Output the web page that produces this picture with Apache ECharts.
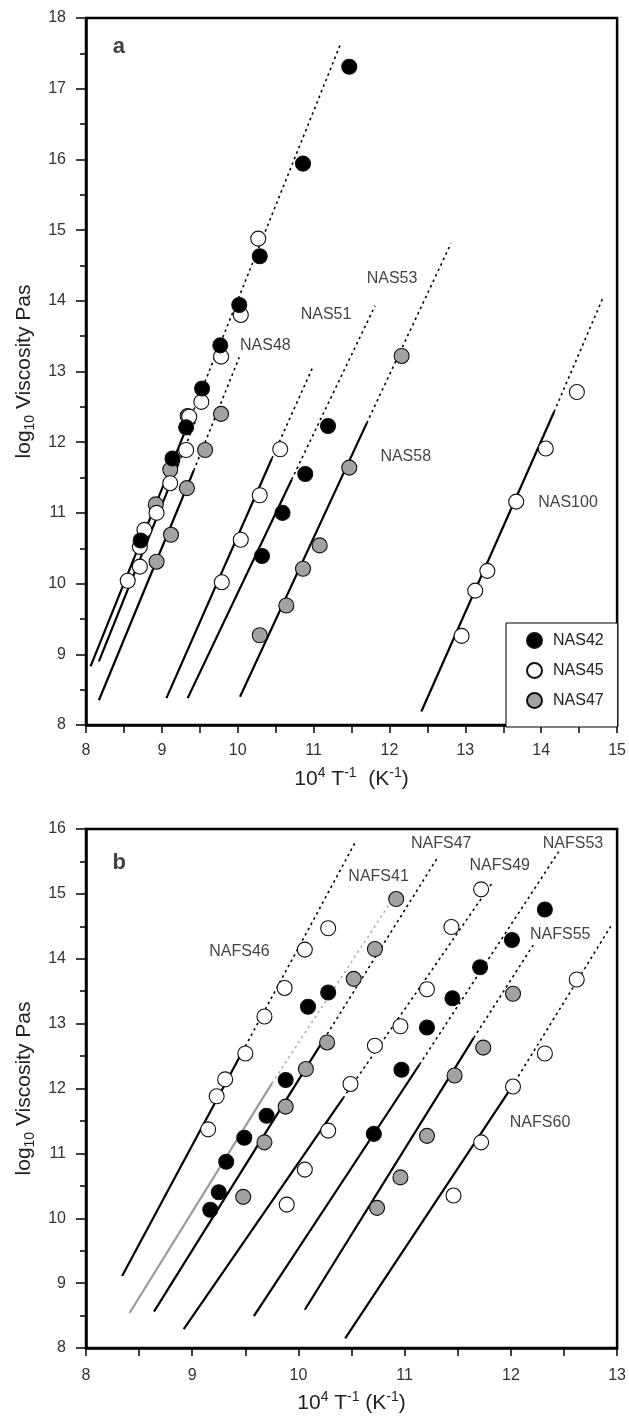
<!DOCTYPE html>
<html>
<head>
<meta charset="utf-8">
<script src="https://cdn.jsdelivr.net/npm/echarts@6/dist/echarts.min.js"></script>
<style>
  html, body { margin: 0; padding: 0; background: #fff; }
  #chart { width: 629px; height: 1416px; }
</style>
</head>
<body>
<div id="chart"></div>
<script>
// ---------- Panel a : NAS melts ----------
const aXRange = [8, 15];
const aYRange = [8, 18];

const aBlack = [
  [11.47, 17.31], [10.86, 15.94], [10.29, 14.63], [10.02, 13.94], [9.77, 13.37],
  [9.53, 12.76], [9.32, 12.21], [9.14, 11.77], [8.72, 10.61],
  [11.19, 12.23], [10.89, 11.55], [10.59, 11.00], [10.32, 10.39]
];
const aWhite = [
  [10.27, 14.88], [10.04, 13.80], [9.78, 13.21], [9.52, 12.57], [9.36, 12.36],
  [9.32, 11.89], [9.11, 11.42], [8.93, 11.00], [8.77, 10.76], [8.71, 10.52],
  [8.71, 10.24], [8.55, 10.04],
  [10.56, 11.90], [10.29, 11.25], [10.04, 10.62], [9.79, 10.02],
  [14.47, 12.71], [14.06, 11.91], [13.67, 11.16], [13.29, 10.18], [13.13, 9.90], [12.95, 9.26]
];
const aGray = [
  [9.34, 12.37], [9.78, 12.40], [9.57, 11.89], [9.11, 11.61], [9.33, 11.35],
  [8.92, 11.12], [9.12, 10.69], [8.93, 10.31],
  [11.47, 11.64], [11.08, 10.54], [10.86, 10.21], [10.64, 9.69], [10.29, 9.27],
  [12.16, 13.22]
];

// model lines: solid from start to solidEnd, dotted extrapolation to end
const aLineStart    = [[8.06, 8.83], [8.17, 8.90], [8.17, 8.35], [9.06, 8.38], [9.34, 8.38], [10.03, 8.40], [12.42, 8.19]];
const aLineSolidEnd = [[9.39, 12.38], [9.22, 11.70], [9.42, 11.60], [10.45, 11.77], [10.71, 11.47], [11.70, 12.27], [14.17, 12.43]];
const aLineEnd      = [[11.35, 17.62], [9.45, 12.32], [10.02, 13.20], [10.98, 13.04], [11.81, 13.93], [12.81, 14.81], [14.82, 14.06]];

const aLabelNames = ['NAS48', 'NAS51', 'NAS53', 'NAS58', 'NAS100'];
const aLabelPos   = [[10.03, 13.37], [10.83, 13.80], [11.70, 14.31], [11.88, 11.79], [13.96, 11.15]];

// ---------- Panel b : NAFS melts ----------
const bXRange = [8, 13];
const bYRange = [8, 16];

const bBlack = [
  [10.28, 13.48], [10.09, 13.26], [9.88, 12.13], [9.70, 11.58], [9.49, 11.24],
  [9.32, 10.87], [9.25, 10.40], [9.17, 10.13],
  [12.32, 14.76], [12.01, 14.29], [11.71, 13.87], [11.45, 13.39], [11.21, 12.94],
  [10.97, 12.29], [10.71, 11.30]
];
const bWhite = [
  [10.28, 14.47], [10.06, 14.14], [9.87, 13.55], [9.68, 13.11], [9.50, 12.54],
  [9.31, 12.14], [9.23, 11.88], [9.15, 11.37],
  [11.72, 15.07], [11.44, 14.49], [11.21, 13.53], [10.96, 12.96], [10.72, 12.66],
  [10.49, 12.07], [10.28, 11.35], [10.06, 10.75], [9.89, 10.21],
  [12.62, 13.68], [12.32, 12.54], [12.02, 12.03], [11.72, 11.17], [11.46, 10.35]
];
const bGray = [
  [10.92, 14.92], [10.72, 14.15], [10.52, 13.69], [10.27, 12.71], [10.07, 12.30],
  [9.88, 11.72], [9.68, 11.17], [9.48, 10.33],
  [12.02, 13.46], [11.74, 12.63], [11.47, 12.20], [11.21, 11.27], [10.96, 10.63], [10.74, 10.16]
];

const bLineStart    = [[8.34, 9.11], [8.41, 8.54], [8.64, 8.56], [8.92, 8.29], [9.58, 8.49], [10.06, 8.59], [10.44, 8.15]];
const bLineSolidEnd = [[9.50, 12.65], [9.75, 12.08], [10.21, 12.68], [10.42, 11.85], [11.14, 12.37], [11.65, 12.78], [12.01, 12.03]];
const bLineEnd      = [[10.53, 15.78], [10.90, 14.95], [11.31, 15.56], [11.82, 15.16], [12.45, 15.65], [12.21, 14.21], [12.94, 14.50]];

const bLabelNames = ['NAFS46', 'NAFS41', 'NAFS47', 'NAFS49', 'NAFS53', 'NAFS55', 'NAFS60'];
const bLabelPos   = [[9.16, 14.11], [10.47, 15.27], [11.06, 15.78], [11.61, 15.43], [12.30, 15.78], [12.18, 14.38], [11.99, 11.47]];

const panelLetters = ['a', 'b'];
const panelLetterPos = [[8.354, 17.59], [8.25, 15.48]];

const seriesNames = ['NAS42', 'NAS45', 'NAS47'];

// ---------- styling ----------
const FONT = '"Liberation Sans", Arial, Helvetica, sans-serif';
const GRAY_LINE = 1;          // the NAFS41 model line is drawn in gray (panel b)

function modelLines(starts, mids, ends, idx, grayIndex) {
  const out = [];
  starts.forEach((s, i) => {
    const isGray = i === grayIndex;
    out.push({
      type: 'line', xAxisIndex: idx, yAxisIndex: idx, z: 2, silent: true,
      showSymbol: false, symbol: 'none', animation: false,
      data: [s, mids[i]],
      lineStyle: { color: isGray ? '#9a9a9a' : '#000', width: 2.2 }
    });
    out.push({
      type: 'line', xAxisIndex: idx, yAxisIndex: idx, z: 2, silent: true,
      showSymbol: false, symbol: 'none', animation: false,
      data: [mids[i], ends[i]],
      lineStyle: { color: isGray ? '#b0b0b0' : '#000', width: 1.6, type: [2.5, 3.5] }
    });
  });
  return out;
}

function points(name, data, idx, fill) {
  return {
    name, type: 'scatter', xAxisIndex: idx, yAxisIndex: idx, z: 4,
    symbol: 'circle', symbolSize: 15, animation: false, data,
    itemStyle: { color: fill, borderColor: '#111', borderWidth: 1.1, opacity: 1 }
  };
}

function labels(names, pos, idx, style) {
  return {
    type: 'scatter', xAxisIndex: idx, yAxisIndex: idx, z: 6, silent: true,
    symbolSize: 0, animation: false,
    data: names.map((n, i) => ({ name: n, value: pos[i] })),
    label: Object.assign({
      show: true, position: 'right', distance: 0, formatter: '{b}',
      fontFamily: FONT, fontSize: 16, color: '#111'
    }, style || {})
  };
}

function xAxis(idx, range, labelMargin, nameText) {
  return {
    type: 'value', gridIndex: idx, min: range[0], max: range[1], interval: 1,
    axisLine: { show: true, lineStyle: { color: '#000', width: 2.5 } },
    axisTick: { show: true, inside: false, length: 8, lineStyle: { color: '#000', width: 1.5 } },
    minorTick: { show: true, splitNumber: 2, length: 8, lineStyle: { color: '#000', width: 1.5 } },
    axisLabel: { fontFamily: FONT, fontSize: 16, color: '#333', margin: labelMargin },
    splitLine: { show: false },
    name: nameText, nameLocation: 'middle', nameGap: 40,
    nameTextStyle: {
      fontFamily: FONT, color: '#222',
      rich: {
        t: { fontFamily: FONT, fontSize: 21, lineHeight: 26, color: '#222' },
        p: { fontFamily: FONT, fontSize: 14, lineHeight: 14, verticalAlign: 'top', color: '#222' }
      }
    }
  };
}

function yAxis(idx, range) {
  return {
    type: 'value', gridIndex: idx, min: range[0], max: range[1], interval: 1,
    axisLine: { show: true, lineStyle: { color: '#000', width: 2.5 } },
    axisTick: { show: true, inside: false, length: 10, lineStyle: { color: '#000', width: 1.5 } },
    minorTick: { show: true, splitNumber: 2, length: 6, lineStyle: { color: '#000', width: 1.5 } },
    axisLabel: { fontFamily: FONT, fontSize: 16, color: '#333', margin: 20 },
    splitLine: { show: false },
    name: '{t|log}{s|10}{t| Viscosity Pas}',
    nameLocation: 'middle', nameRotate: 90, nameGap: 48,
    nameTextStyle: {
      fontFamily: FONT, color: '#222',
      rich: {
        t: { fontFamily: FONT, fontSize: 21, lineHeight: 26, color: '#222' },
        s: { fontFamily: FONT, fontSize: 14, lineHeight: 14, verticalAlign: 'bottom', color: '#222' }
      }
    }
  };
}

const chart = echarts.init(document.getElementById('chart'), null, { renderer: 'canvas' });

const series = [].concat(
  modelLines(aLineStart, aLineSolidEnd, aLineEnd, 0, -1),
  modelLines(bLineStart, bLineSolidEnd, bLineEnd, 1, GRAY_LINE),
  [
    points(seriesNames[2], aGray, 0, '#a2a2a2'),
    points(seriesNames[1], aWhite, 0, '#ffffff'),
    points(seriesNames[0], aBlack, 0, '#000000'),
    points(seriesNames[2], bGray, 1, '#a2a2a2'),
    points(seriesNames[1], bWhite, 1, '#ffffff'),
    points(seriesNames[0], bBlack, 1, '#000000'),
    labels(aLabelNames, aLabelPos, 0),
    labels(bLabelNames, bLabelPos, 1),
    labels([panelLetters[0]], [panelLetterPos[0]], 0, { fontSize: 22, fontWeight: 'bold', color: '#111' }),
    labels([panelLetters[1]], [panelLetterPos[1]], 1, { fontSize: 22, fontWeight: 'bold', color: '#111' })
  ]
);

chart.setOption({
  animation: false,
  backgroundColor: '#fff',
  textStyle: { fontFamily: FONT },
  grid: [
    { left: 86, top: 18, width: 534, height: 707, show: true, borderColor: '#000', borderWidth: 2.5, backgroundColor: 'transparent' },
    { left: 86, top: 829, width: 535, height: 519, show: true, borderColor: '#000', borderWidth: 2.5, backgroundColor: 'transparent' }
  ],
  xAxis: [
    Object.assign(xAxis(0, aXRange, 18, '{t|10}{p|4}{t| T}{p|-1}{t|  (K}{p|-1}{t|)}'), { nameGap: 41 }),
    Object.assign(xAxis(1, bXRange, 20, '{t|10}{p|4}{t| T}{p|-1}{t| (K}{p|-1}{t|)}'), { nameGap: 42 })
  ],
  yAxis: [yAxis(0, aYRange), yAxis(1, bYRange)],
  legend: {
    show: true, orient: 'vertical', left: 506, top: 623,
    data: seriesNames, icon: 'circle', itemWidth: 15, itemHeight: 15, itemGap: 13,
    padding: [9, 14, 18, 20],
    borderColor: '#000', borderWidth: 1, backgroundColor: '#fff',
    selectedMode: false,
    textStyle: { fontFamily: FONT, fontSize: 16, color: '#222', lineHeight: 16, padding: [0, 0, 0, 6] }
  },
  series
});
</script>
</body>
</html>
